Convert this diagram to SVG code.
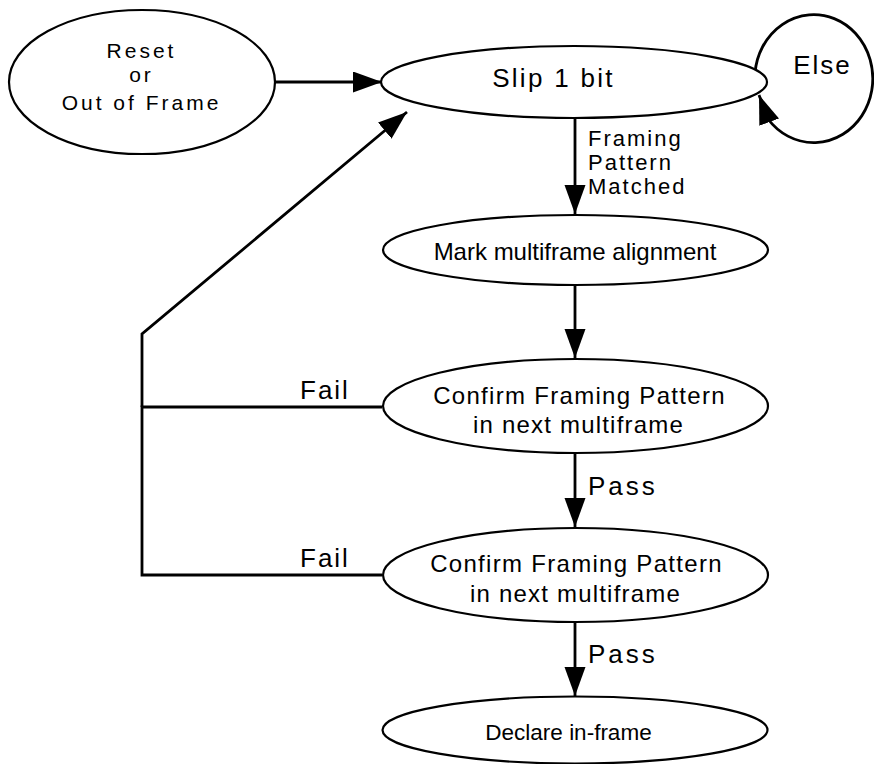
<svg xmlns="http://www.w3.org/2000/svg" width="874" height="764" viewBox="0 0 874 764">
<defs>
<style>
.node{fill:#fff;stroke:#000;stroke-width:2.2}
.edge{fill:none;stroke:#000;stroke-width:2.8}
text{font-family:"Liberation Sans",Arial,sans-serif;fill:#000}
.c{text-anchor:middle}
</style>
<marker id="ah" markerUnits="userSpaceOnUse" markerWidth="30" markerHeight="22" refX="29" refY="10.5" orient="auto">
<path d="M0,0 L29,10.5 L0,21 z" fill="#000"/>
</marker>
</defs>
<rect width="874" height="764" fill="#fff"/>
<g id="connectors">
<path class="edge" d="M275,82 L382,82" marker-end="url(#ah)"/>
<path class="edge" d="M575,117 L575,214" marker-end="url(#ah)"/>
<path class="edge" d="M575,286 L575,358" marker-end="url(#ah)"/>
<path class="edge" d="M575,453 L575,527" marker-end="url(#ah)"/>
<path class="edge" d="M575,622 L575,696" marker-end="url(#ah)"/>
<path class="edge" d="M382,407 L142,407 L142,575 L382,575"/>
<path class="edge" d="M142,407 L142,334 L407,112" marker-end="url(#ah)"/>
<path class="edge" d="M755,73 A59,64 0 1 1 768,119 L759,95" marker-end="url(#ah)"/>
<text x="588" y="146" font-size="22" letter-spacing="2">Framing</text>
<text x="588" y="170" font-size="22" letter-spacing="2">Pattern</text>
<text x="588" y="194" font-size="22" letter-spacing="2">Matched</text>
<text x="300" y="399" font-size="26" letter-spacing="2">Fail</text>
<text x="300" y="567" font-size="26" letter-spacing="2">Fail</text>
<text x="588" y="495" font-size="26" letter-spacing="3">Pass</text>
<text x="588" y="663" font-size="26" letter-spacing="3">Pass</text>
<text x="822.5" y="74" font-size="26" letter-spacing="2" class="c">Else</text>
</g>
<g id="reset">
<ellipse class="node" cx="142" cy="82" rx="133" ry="72"/>
<text class="c" x="141.5" y="58" font-size="21" letter-spacing="3">Reset</text>
<text class="c" x="141.5" y="82" font-size="21" letter-spacing="3">or</text>
<text class="c" x="141.5" y="110" font-size="21" letter-spacing="3">Out of Frame</text>
</g>
<g id="slip">
<ellipse class="node" cx="574" cy="82" rx="193" ry="36"/>
<text class="c" x="553.5" y="87" font-size="26" letter-spacing="2.3">Slip 1 bit</text>
</g>
<g id="mark">
<ellipse class="node" cx="575.5" cy="250" rx="192.5" ry="35"/>
<text class="c" x="575" y="260" font-size="24">Mark multiframe alignment</text>
</g>
<g id="confirm1">
<ellipse class="node" cx="575.5" cy="406" rx="192.5" ry="47"/>
<text class="c" x="579.5" y="404" font-size="24" letter-spacing="1.3">Confirm Framing Pattern</text>
<text class="c" x="578.5" y="433" font-size="24" letter-spacing="1.2">in next multiframe</text>
</g>
<g id="confirm2">
<ellipse class="node" cx="575.5" cy="575" rx="192.5" ry="47"/>
<text class="c" x="576.5" y="572" font-size="24" letter-spacing="1.3">Confirm Framing Pattern</text>
<text class="c" x="575.5" y="602" font-size="24" letter-spacing="1.2">in next multiframe</text>
</g>
<g id="declare">
<ellipse class="node" cx="575" cy="730" rx="192.5" ry="33.5"/>
<text class="c" x="568.5" y="740" font-size="22.5">Declare in-frame</text>
</g>
</svg>
